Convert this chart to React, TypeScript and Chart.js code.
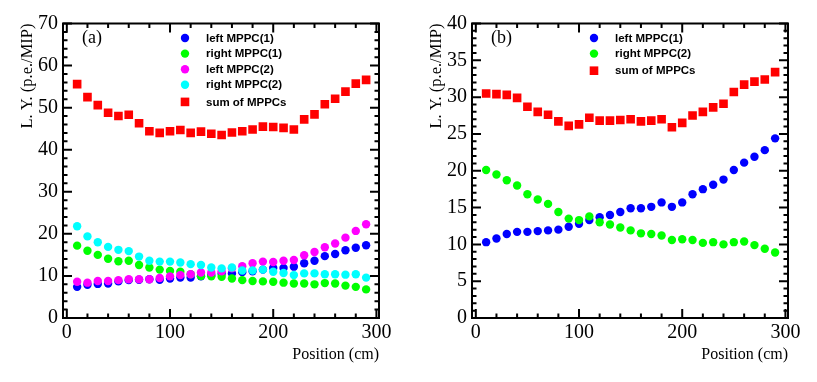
import React, { useEffect, useRef } from 'react';
import { Chart, registerables } from 'chart.js';

Chart.register(...registerables);

// ---------- data ----------
const POSITIONS = [10, 20, 30, 40, 50, 60, 70, 80, 90, 100, 110, 120, 130, 140, 150, 160, 170, 180, 190, 200, 210, 220, 230, 240, 250, 260, 270, 280, 290];

const A_LEFT1 = [7.4, 7.9, 8.1, 8.2, 8.7, 9.0, 9.1, 9.2, 9.1, 9.4, 9.6, 9.6, 9.9, 10.2, 10.5, 10.6, 10.9, 11.1, 11.5, 11.9, 11.9, 12.2, 13.0, 13.6, 14.7, 15.2, 16.1, 16.7, 17.3];
const A_RIGHT1 = [17.2, 16.0, 15.0, 14.1, 13.5, 13.6, 12.6, 12.0, 11.5, 11.2, 11.0, 10.4, 10.0, 9.9, 9.8, 9.4, 9.0, 8.8, 8.7, 8.6, 8.4, 8.2, 8.2, 8.0, 8.3, 8.2, 7.7, 7.4, 6.8];
const A_LEFT2 = [8.6, 8.4, 8.8, 8.8, 9.0, 9.2, 9.2, 9.2, 9.5, 9.9, 10.2, 10.4, 10.8, 10.8, 11.1, 11.8, 12.3, 13.0, 13.4, 13.3, 13.6, 13.8, 14.9, 15.7, 16.8, 17.7, 19.1, 20.7, 22.3];
const A_RIGHT2 = [21.8, 19.4, 18.0, 16.9, 16.2, 15.9, 14.6, 13.6, 13.4, 13.4, 13.2, 12.8, 12.6, 12.0, 11.8, 12.0, 11.3, 11.3, 11.5, 11.0, 10.7, 10.2, 10.6, 10.6, 10.4, 10.4, 10.3, 10.4, 9.6];
const A_SUM = [55.6, 52.5, 50.6, 48.8, 48.0, 48.3, 46.3, 44.4, 44.0, 44.4, 44.7, 44.0, 44.3, 43.8, 43.5, 44.1, 44.4, 44.8, 45.5, 45.4, 45.2, 44.8, 47.2, 48.4, 50.8, 52.1, 53.8, 55.7, 56.6];

const B_LEFT1 = [10.3, 10.8, 11.4, 11.7, 11.7, 11.8, 11.9, 12.0, 12.4, 12.8, 13.3, 13.7, 14.0, 14.4, 14.9, 14.9, 15.1, 15.7, 15.1, 15.7, 16.8, 17.5, 18.1, 18.8, 20.1, 21.1, 21.9, 22.8, 24.4];
const B_RIGHT2 = [20.1, 19.5, 18.7, 18.0, 16.8, 16.1, 15.5, 14.4, 13.5, 13.3, 13.8, 13.0, 12.7, 12.3, 11.9, 11.5, 11.4, 11.2, 10.6, 10.7, 10.6, 10.2, 10.3, 10.0, 10.3, 10.4, 9.9, 9.4, 8.9];
const B_SUM = [30.5, 30.4, 30.3, 29.9, 28.7, 28.0, 27.6, 26.7, 26.1, 26.3, 27.2, 26.8, 26.8, 26.9, 27.0, 26.7, 26.8, 27.0, 25.9, 26.5, 27.5, 28.0, 28.6, 29.1, 30.7, 31.7, 32.1, 32.4, 33.4];

const X_TICKS = [0, 100, 200, 300];
const A_Y_TICKS = [0, 10, 20, 30, 40, 50, 60, 70];
const B_Y_TICKS = [0, 5, 10, 15, 20, 25, 30, 35, 40];

const X_TITLE = 'Position (cm)';
const Y_TITLE = 'L. Y. (p.e./MIP)';

// ---------- styling ----------
const SERIF = '"Liberation Serif", "Times New Roman", serif';
const SANS = '"Liberation Sans", Arial, Helvetica, sans-serif';

type Series = { label: string; values: number[]; color: string; style: 'circle' | 'rect' };

const PANEL_A: { tag: string; yMax: number; yTicks: number[]; yMinor: number; series: Series[] } = {
  tag: '(a)',
  yMax: 70,
  yTicks: A_Y_TICKS,
  yMinor: 2,
  series: [
    { label: 'left MPPC(1)', values: A_LEFT1, color: '#0000ff', style: 'circle' },
    { label: 'right MPPC(1)', values: A_RIGHT1, color: '#00ff00', style: 'circle' },
    { label: 'left MPPC(2)', values: A_LEFT2, color: '#ff00ff', style: 'circle' },
    { label: 'right MPPC(2)', values: A_RIGHT2, color: '#00ffff', style: 'circle' },
    { label: 'sum of MPPCs', values: A_SUM, color: '#ff0000', style: 'rect' },
  ],
};

const PANEL_B = {
  tag: '(b)',
  yMax: 40,
  yTicks: B_Y_TICKS,
  yMinor: 1,
  series: [
    { label: 'left MPPC(1)', values: B_LEFT1, color: '#0000ff', style: 'circle' },
    { label: 'right MPPC(2)', values: B_RIGHT2, color: '#00ff00', style: 'circle' },
    { label: 'sum of MPPCs', values: B_SUM, color: '#ff0000', style: 'rect' },
  ] as Series[],
};

const X_MIN = -3.7;
const X_MAX = 302.5;
const X_MINOR = 20;

const rootFramePlugin = {
  id: 'rootFrame',
  afterDatasetsDraw(chart: any, _args: any, opts: any) {
    const { ctx, chartArea: a, scales } = chart;
    const xs = scales.x;
    const ys = scales.y;
    ctx.save();
    ctx.strokeStyle = '#000';
    ctx.lineWidth = 2;
    ctx.lineCap = 'butt';
    const majorLen = 9;
    const minorLen = 4.5;
    // x ticks (bottom and top)
    ctx.beginPath();
    for (let i = 0; i * X_MINOR <= 300 + 1e-6; i++) {
      const v = i * X_MINOR;
      const px = xs.getPixelForValue(v);
      const len = X_TICKS.includes(v) ? majorLen : minorLen;
      ctx.moveTo(px, a.bottom);
      ctx.lineTo(px, a.bottom - len);
      ctx.moveTo(px, a.top);
      ctx.lineTo(px, a.top + len);
    }
    // y ticks (left and right)
    const yMax = opts.yMax;
    const yMinor = opts.yMinor;
    const yMajors: number[] = opts.yTicks;
    for (let i = 0; i * yMinor <= yMax + 1e-6; i++) {
      const v = i * yMinor;
      const py = ys.getPixelForValue(v);
      const len = yMajors.includes(v) ? majorLen : minorLen;
      ctx.moveTo(a.left, py);
      ctx.lineTo(a.left + len, py);
      ctx.moveTo(a.right, py);
      ctx.lineTo(a.right - len, py);
    }
    ctx.stroke();
    // frame
    ctx.strokeRect(a.left, a.top, a.right - a.left, a.bottom - a.top);

    // panel tag
    ctx.fillStyle = '#000';
    ctx.font = `18px ${SERIF}`;
    ctx.textAlign = 'left';
    ctx.textBaseline = 'middle';
    ctx.fillText(opts.tag, a.left + 19, a.top + 15);

    // legend
    const mx = a.left + 122;
    const tx = a.left + 143;
    ctx.font = `bold 11.5px ${SANS}`;
    chart.data.datasets.forEach((ds: any, i: number) => {
      const y = a.top + 14.5 + i * 15.6 + (ds.pointStyle === 'rect' ? 1.5 : 0);
      ctx.fillStyle = ds.backgroundColor;
      if (ds.pointStyle === 'rect') {
        ctx.fillRect(mx - 4.3, y - 4.3, 8.6, 8.6);
      } else {
        ctx.beginPath();
        ctx.arc(mx, y, 4.2, 0, Math.PI * 2);
        ctx.fill();
      }
      ctx.fillStyle = '#000';
      ctx.fillText(ds.label, tx, y + 0.5);
    });
    ctx.restore();
  },
};

function makeConfig(panel: typeof PANEL_A): any {
  return {
    type: 'scatter',
    data: {
      datasets: panel.series.map((s, i) => ({
        label: s.label,
        data: POSITIONS.map((x, j) => ({ x, y: s.values[j] })),
        pointStyle: s.style,
        pointRadius: s.style === 'rect' ? 6.1 : 4.2,
        pointHoverRadius: s.style === 'rect' ? 6.1 : 4.2,
        backgroundColor: s.color,
        borderColor: s.color,
        borderWidth: 0,
        showLine: false,
        order: 100 - i,
      })),
    },
    options: {
      responsive: false,
      animation: false,
      events: [],
      layout: { padding: { left: 0, top: 23.5, right: 29, bottom: 0 } },
      plugins: {
        legend: { display: false },
        tooltip: { enabled: false },
        rootFrame: { tag: panel.tag, yMax: panel.yMax, yMinor: panel.yMinor, yTicks: panel.yTicks },
      },
      scales: {
        x: {
          type: 'linear',
          min: X_MIN,
          max: X_MAX,
          afterBuildTicks: (s: any) => {
            s.ticks = X_TICKS.map((v) => ({ value: v }));
          },
          afterFit: (s: any) => {
            s.height = 64;
          },
          grid: { display: false, drawTicks: false },
          border: { display: false },
          ticks: {
            padding: 3,
            color: '#000',
            maxRotation: 0,
            autoSkip: false,
            font: { family: SERIF, size: 20 },
          },
          title: {
            display: true,
            text: X_TITLE,
            align: 'end',
            color: '#000',
            font: { family: SERIF, size: 16 },
            padding: { top: 0, bottom: 18 },
          },
        },
        y: {
          type: 'linear',
          min: 0,
          max: panel.yMax,
          afterBuildTicks: (s: any) => {
            s.ticks = panel.yTicks.map((v) => ({ value: v }));
          },
          afterFit: (s: any) => {
            s.width = 63;
          },
          grid: { display: false, drawTicks: false },
          border: { display: false },
          ticks: {
            padding: 5,
            color: '#000',
            autoSkip: false,
            font: { family: SERIF, size: 20 },
          },
          title: {
            display: true,
            text: Y_TITLE,
            align: 'end',
            color: '#000',
            font: { family: SERIF, size: 16.5 },
            padding: { top: 18, bottom: 0 },
          },
        },
      },
    },
    plugins: [rootFramePlugin],
  };
}

function Panel({ panel, left }: { panel: typeof PANEL_A; left: number }) {
  const ref = useRef<HTMLCanvasElement | null>(null);
  useEffect(() => {
    if (!ref.current) return;
    const chart = new Chart(ref.current, makeConfig(panel));
    return () => chart.destroy();
  }, [panel]);
  return (
    <canvas
      ref={ref}
      width={408}
      height={382}
      style={{ position: 'absolute', left, top: 0, width: 408, height: 382, display: 'block' }}
    />
  );
}

export default function App() {
  return (
    <div style={{ position: 'absolute', left: 0, top: 0, width: 817, height: 382, background: '#fff', overflow: 'hidden' }}>
      <Panel panel={PANEL_A} left={0} />
      <Panel panel={PANEL_B} left={409} />
    </div>
  );
}
